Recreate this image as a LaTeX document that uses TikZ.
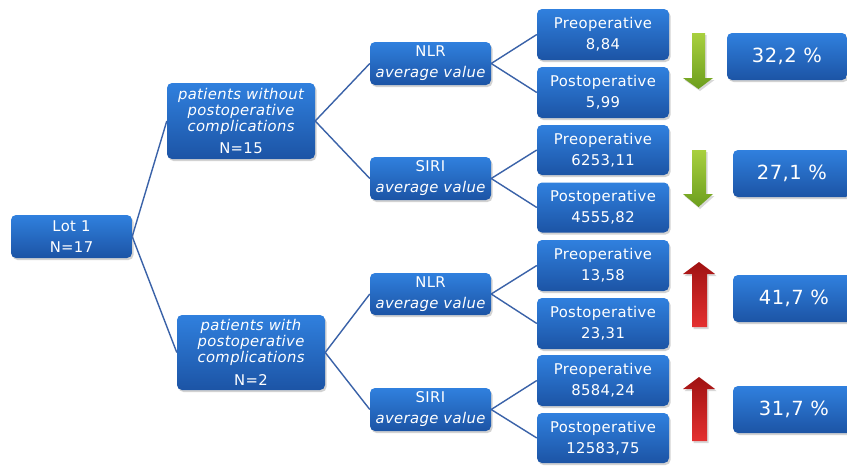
\documentclass[tikz,border=0pt]{standalone}
\usepackage{fontspec}
\setmainfont{DejaVu Sans}[LetterSpace=2.5]
\usetikzlibrary{shadows}
\definecolor{boxtop}{RGB}{48,128,222}
\definecolor{boxbot}{RGB}{28,84,165}
\definecolor{linkc}{RGB}{58,98,168}
\definecolor{gtop}{RGB}{168,208,62}
\definecolor{gbot}{RGB}{108,158,30}
\definecolor{rtop}{RGB}{160,18,18}
\definecolor{rbot}{RGB}{228,48,48}
\tikzset{
  bluebox/.style={rectangle, rounded corners=5pt, top color=boxtop, bottom color=boxbot,
    draw=none, text=white, align=center, inner sep=0pt,
    drop shadow={shadow xshift=1.5pt, shadow yshift=-2pt, opacity=0.35},
    font=\fontsize{14.8}{16}\selectfont},
  small/.style={bluebox, minimum width=121pt, minimum height=43pt},
  mid/.style={bluebox, minimum width=148pt, minimum height=76pt},
  valbox/.style={bluebox, minimum width=132pt, minimum height=51pt},
  pctbox/.style={bluebox, minimum height=47pt, font=\fontsize{19.5}{22}\selectfont},
  link/.style={draw=linkc, line width=1.4pt},
  garrow/.style={top color=gtop, bottom color=gbot, draw=none,
    drop shadow={shadow xshift=1.5pt, shadow yshift=-2pt, opacity=0.3}},
  rarrow/.style={top color=rtop, bottom color=rbot, draw=none,
    drop shadow={shadow xshift=1.5pt, shadow yshift=-2pt, opacity=0.3}}
}
\begin{document}
\begin{tikzpicture}[x=1pt, y=-1pt]
\useasboundingbox (0,0) rectangle (847,466);
\fill[white] (0,0) rectangle (847,466);

% level 0
\node[small] (lot) at (71.5,236.5) {Lot 1\\[5pt]N=17};

% level 1
\node[mid] (pw) at (241,121) {\itshape patients without\\\itshape postoperative\\\itshape complications\\[6.5pt]\upshape N=15};
\node[mid, minimum height=75pt] (pc) at (251,352.5) {\itshape patients with\\\itshape postoperative\\\itshape complications\\[6.5pt]\upshape N=2};

% level 2
\node[small] (nlr1) at (430.5,63.5) {NLR\\[5pt]\itshape average value};
\node[small] (siri1) at (430.5,178.5) {SIRI\\[5pt]\itshape average value};
\node[small, minimum height=42pt] (nlr2) at (430.5,294) {NLR\\[5pt]\itshape average value};
\node[small] (siri2) at (430.5,409.5) {SIRI\\[5pt]\itshape average value};

% level 3
\node[valbox] (pre1) at (603,34.5) {Preoperative\\[5pt]8,84};
\node[valbox] (post1) at (603,92.5) {Postoperative\\[5pt]5,99};
\node[valbox, minimum height=50pt] (pre2) at (603,150) {Preoperative\\[5pt]6253,11};
\node[valbox, minimum height=50pt] (post2) at (603,207.5) {Postoperative\\[5pt]4555,82};
\node[valbox] (pre3) at (603,265.5) {Preoperative\\[5pt]13,58};
\node[valbox] (post3) at (603,323.5) {Postoperative\\[5pt]23,31};
\node[valbox] (pre4) at (603,380.5) {Preoperative\\[5pt]8584,24};
\node[valbox, minimum height=50pt] (post4) at (603,438) {Postoperative\\[5pt]12583,75};

% percentages
\node[pctbox, minimum width=120pt] (pct1) at (787,56.5) {32,2 \%};
\node[pctbox, minimum width=118pt] (pct2) at (792,173.5) {27,1 \%};
\node[pctbox, minimum width=122pt] (pct3) at (794,298.5) {41,7 \%};
\node[pctbox, minimum width=122pt] (pct4) at (794,409.5) {31,7 \%};

% connectors
\draw[link] (lot.east) -- (pw.west);
\draw[link] (lot.east) -- (pc.west);
\draw[link] (pw.east) -- (nlr1.west);
\draw[link] (pw.east) -- (siri1.west);
\draw[link] (pc.east) -- (nlr2.west);
\draw[link] (pc.east) -- (siri2.west);
\draw[link] (nlr1.east) -- (pre1.west);
\draw[link] (nlr1.east) -- (post1.west);
\draw[link] (siri1.east) -- (pre2.west);
\draw[link] (siri1.east) -- (post2.west);
\draw[link] (nlr2.east) -- (pre3.west);
\draw[link] (nlr2.east) -- (post3.west);
\draw[link] (siri2.east) -- (pre4.west);
\draw[link] (siri2.east) -- (post4.west);

% green arrows (down)
\path[garrow] (692,33) -- (705,33) -- (705,78) -- (713,78) -- (698.5,89) -- (683,78) -- (692,78) -- cycle;
\path[garrow] (692,150) -- (706,150) -- (706,194) -- (713,194) -- (698.5,207) -- (683,194) -- (692,194) -- cycle;

% red arrows (up)
\path[rarrow] (699,262) -- (715,274) -- (707,274) -- (707,327) -- (692,327) -- (692,274) -- (683,274) -- cycle;
\path[rarrow] (699,377) -- (715,389) -- (707,389) -- (707,441) -- (692,441) -- (692,389) -- (683,389) -- cycle;
\end{tikzpicture}
\end{document}
